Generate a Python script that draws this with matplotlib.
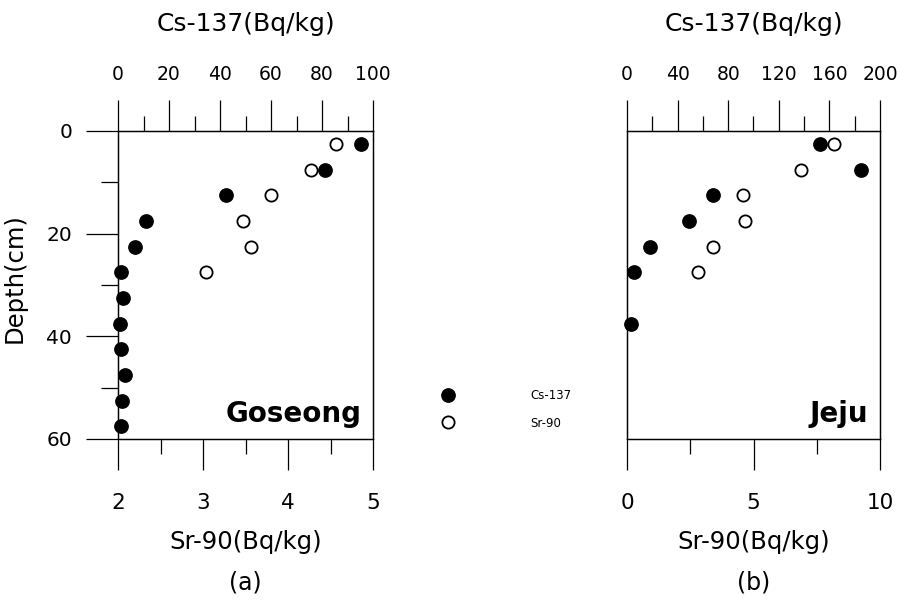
"""
Cs-137 / Sr-90 depth profiles, Goseong (a) and Jeju (b).
Output: out.png
"""
import matplotlib
matplotlib.use("Agg")
import matplotlib.pyplot as plt
from matplotlib.ticker import MultipleLocator

plt.rcParams["font.family"] = ["DejaVu Sans"]

# --- data ---
# (a) Goseong
gos_cs_depth = [2.5, 7.5, 12.5, 17.5, 22.5, 27.5, 32.5, 37.5, 42.5, 47.5, 52.5, 57.5]
gos_cs = [95.4, 81.3, 42.2, 11.1, 6.6, 1.3, 2.0, 0.7, 1.0, 2.6, 1.6, 1.3]
gos_sr_depth = [2.5, 7.5, 12.5, 17.5, 22.5, 27.5]
gos_sr = [4.56, 4.27, 3.80, 3.47, 3.56, 3.03]

# (b) Jeju
jej_cs_depth = [2.5, 7.5, 12.5, 17.5, 22.5, 27.5, 37.5]
jej_cs = [152.6, 184.7, 67.9, 48.9, 18.4, 5.8, 3.2]
jej_sr_depth = [2.5, 7.5, 12.5, 17.5, 22.5, 27.5]
jej_sr = [8.2, 6.88, 4.6, 4.67, 3.38, 2.8]

W, H = 898, 613
MAJ, MIN = 22, 11  # tick lengths (pt)


def panel(rect, sr_d, sr_v, cs_d, cs_v, sr_lim, sr_step, cs_lim, cs_step,
          site, tag, show_y):
    ax = fig.add_axes(rect)
    ax.set_xlim(*sr_lim)
    ax.set_ylim(60, 0)
    ax.xaxis.set_major_locator(MultipleLocator(sr_step))
    ax.xaxis.set_minor_locator(MultipleLocator(sr_step / 2))
    ax.tick_params(axis="x", which="both", direction="out", width=0.9,
                   labelsize=15.5, pad=17)
    ax.tick_params(axis="x", which="major", length=MAJ)
    ax.tick_params(axis="x", which="minor", length=MIN)
    if show_y:
        ax.yaxis.set_major_locator(MultipleLocator(20))
        ax.yaxis.set_minor_locator(MultipleLocator(10))
        ax.tick_params(axis="y", which="both", direction="out", width=0.9,
                       labelsize=14.5, pad=10)
        ax.tick_params(axis="y", which="major", length=23)
        ax.tick_params(axis="y", which="minor", length=12)
        ax.set_ylabel("Depth(cm)", fontsize=17.5)
        ax.yaxis.set_label_coords(-0.357, 0.523)
    else:
        ax.tick_params(axis="y", which="both", left=False, labelleft=False)
    ax.set_xlabel("Sr-90(Bq/kg)", fontsize=17.5, va="top")
    ax.xaxis.set_label_coords(0.5, -0.295)

    ax2 = ax.twiny()
    ax2.set_xlim(*cs_lim)
    ax2.xaxis.set_major_locator(MultipleLocator(cs_step))
    ax2.xaxis.set_minor_locator(MultipleLocator(cs_step / 2))
    ax2.tick_params(axis="x", which="both", direction="out", width=0.9,
                    labelsize=13.5, pad=11.5)
    ax2.tick_params(axis="x", which="major", length=MAJ)
    ax2.tick_params(axis="x", which="minor", length=MIN)
    ax2.set_xlabel("Cs-137(Bq/kg)", fontsize=18, va="center")
    ax2.xaxis.set_label_coords(0.5, 1.347)

    for a in (ax, ax2):
        for s in a.spines.values():
            s.set_linewidth(0.9)

    sr_line, = ax.plot(sr_v, sr_d, "o", ms=8.8, mfc="white", mec="black",
                       mew=1.3, ls="none", clip_on=False, label="Sr-90")
    cs_line, = ax2.plot(cs_v, cs_d, "o", ms=9.6, mfc="black", mec="black",
                        ls="none", clip_on=False, label="Cs-137")

    ax.text(0.955, 0.055, site, transform=ax.transAxes, ha="right",
            va="baseline", fontsize=20, fontweight="bold")
    ax.text(0.5, -0.467, tag, transform=ax.transAxes, ha="center",
            va="center", fontsize=17)
    return cs_line, sr_line


fig = plt.figure(figsize=(W / 100, H / 100), dpi=100)

cs_h, sr_h = panel([118 / W, 1 - 439 / H, 255 / W, 308 / H],
                   gos_sr_depth, gos_sr, gos_cs_depth, gos_cs,
                   (2, 5), 1, (0, 100), 20, "Goseong", "(a)", True)
panel([627 / W, 1 - 439 / H, 253 / W, 308 / H],
      jej_sr_depth, jej_sr, jej_cs_depth, jej_cs,
      (0, 10), 5, (0, 200), 40, "Jeju", "(b)", False)

fig.legend([cs_h, sr_h], ["Cs-137", "Sr-90"], loc="center left",
           bbox_to_anchor=(430 / W, 1 - 409.5 / H), frameon=False,
           fontsize=8.5, borderpad=0, handlelength=2, handletextpad=6.0,
           labelspacing=1.2, numpoints=1)

fig.savefig("out.png", dpi=100)
